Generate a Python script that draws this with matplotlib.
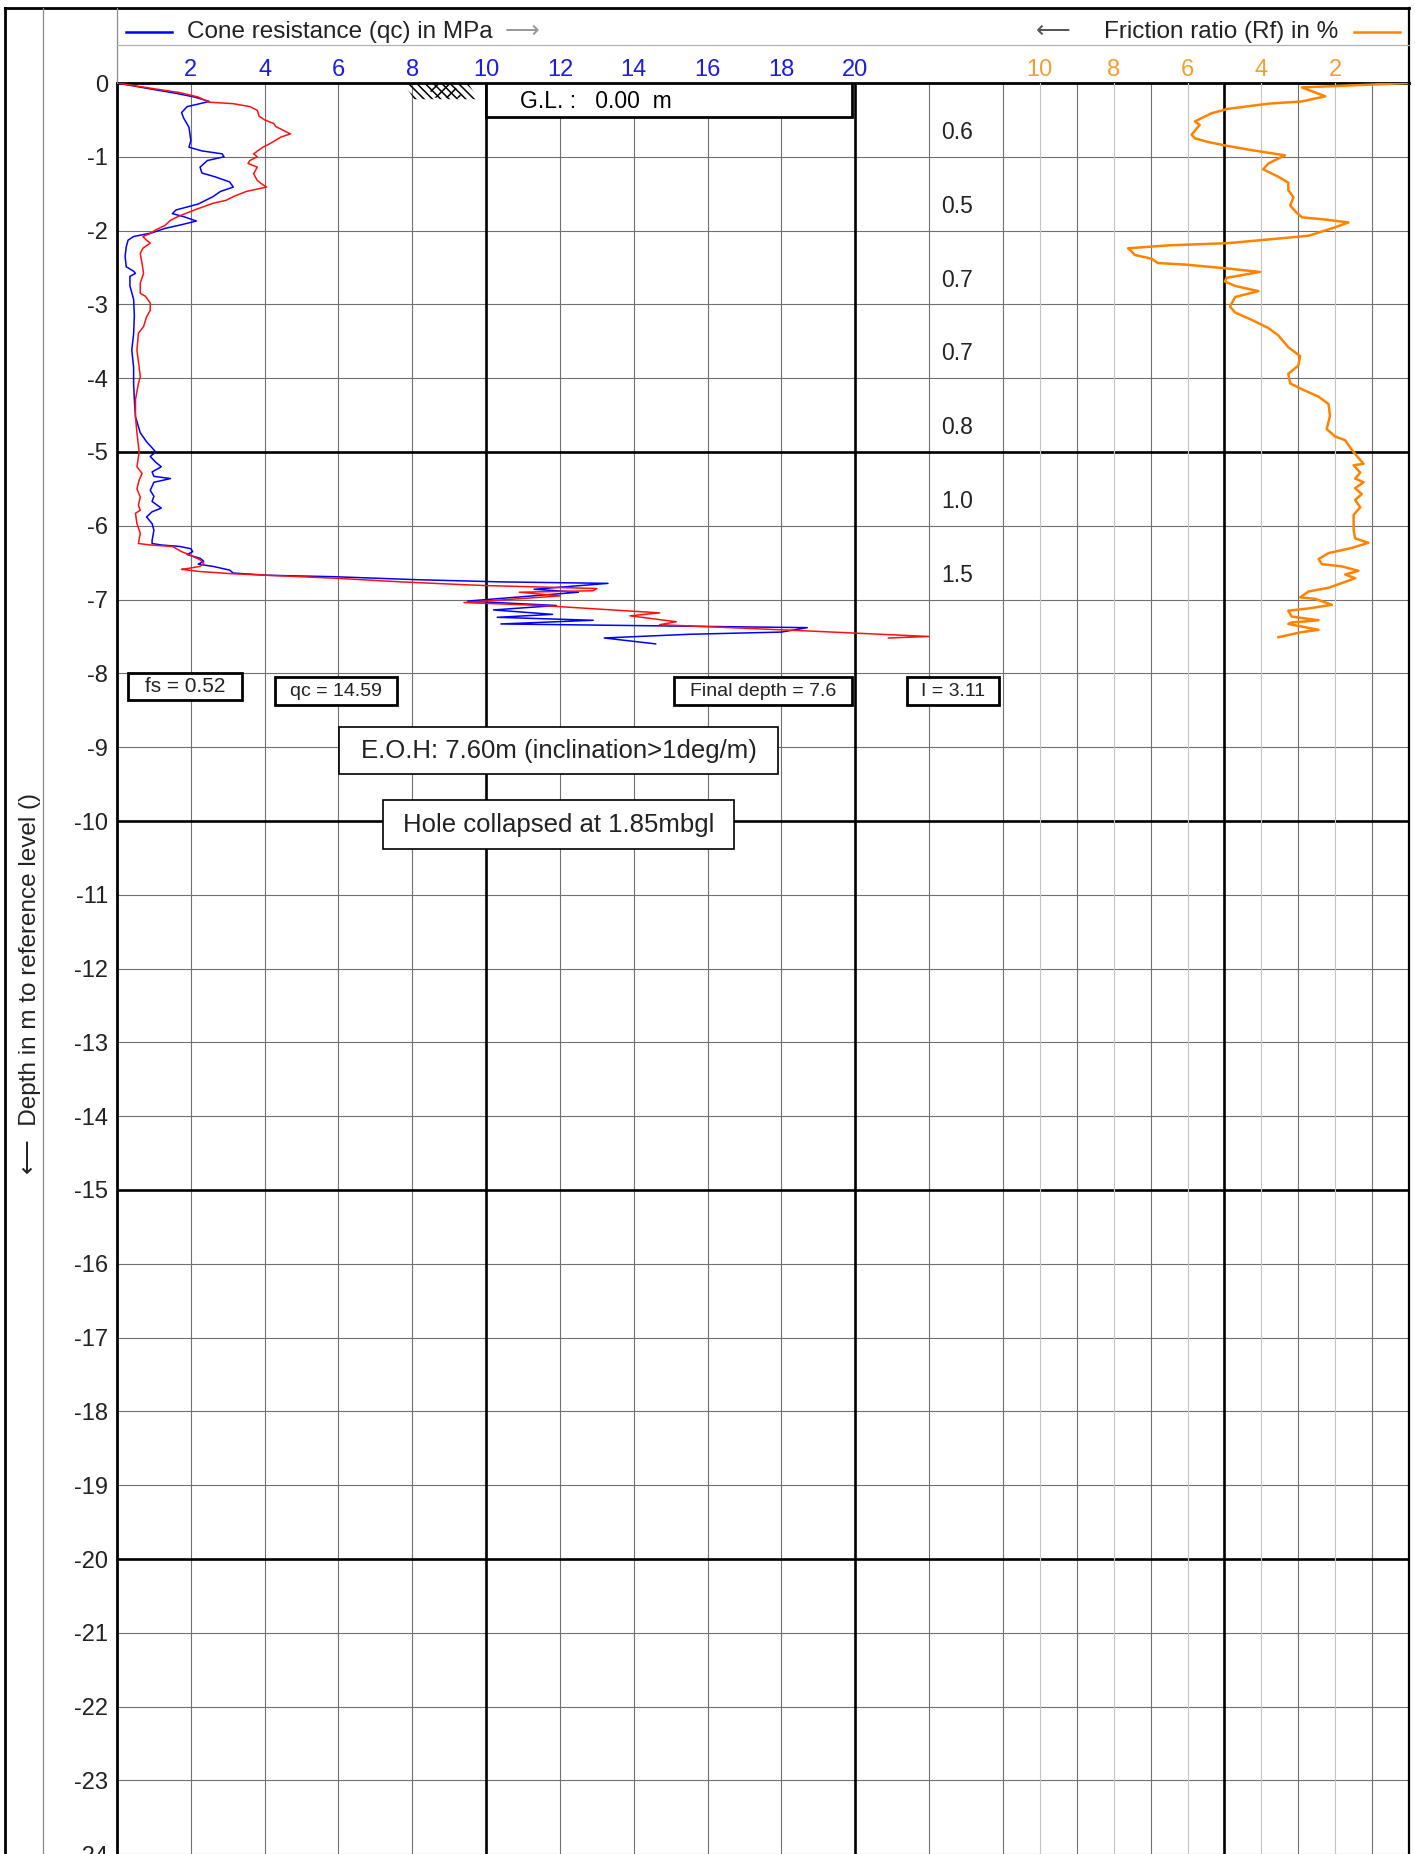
import matplotlib.pyplot as plt
import numpy as np
from matplotlib.patches import Polygon, Rectangle

plt.rcParams["font.family"] = ["Liberation Sans", "DejaVu Sans"]
plt.rcParams["axes.unicode_minus"] = False
plt.rcParams["hatch.linewidth"] = 1.1

# --- cone resistance qc (MPa) vs depth (m) ---
qc_depth = [0.00, 0.08, 0.14, 0.19, 0.25, 0.32, 0.40, 0.47, 0.60, 0.78, 0.87, 0.92, 0.96, 1.00,
            1.05, 1.14, 1.22, 1.27, 1.34, 1.41, 1.47, 1.54, 1.59, 1.64, 1.72, 1.77, 1.81, 1.87,
            1.92, 1.97, 2.03, 2.08, 2.13, 2.22, 2.35, 2.49, 2.55, 2.58, 2.62, 2.75, 2.93, 3.15,
            3.40, 3.62, 3.85, 4.07, 4.29, 4.52, 4.74, 4.86, 5.00, 5.06, 5.14, 5.20, 5.27, 5.33,
            5.36, 5.41, 5.52, 5.60, 5.67, 5.76, 5.81, 5.88, 5.97, 6.06, 6.20, 6.24, 6.26, 6.28,
            6.31, 6.35, 6.39, 6.44, 6.48, 6.52, 6.55, 6.60, 6.64, 6.67, 6.69, 6.73, 6.76, 6.78,
            6.86, 6.90, 7.02, 7.08, 7.14, 7.20, 7.24, 7.28, 7.33, 7.38, 7.44, 7.47, 7.52, 7.60]
qc_values = [0.0, 0.9, 1.6, 2.1, 2.5, 1.9, 1.75, 1.8, 1.95, 2.0, 1.95, 2.3, 2.85, 2.9,
             2.45, 2.25, 2.3, 2.65, 3.05, 3.15, 2.8, 2.6, 2.4, 2.2, 1.6, 1.5, 1.8, 2.15,
             1.75, 1.3, 0.95, 0.45, 0.3, 0.25, 0.22, 0.25, 0.45, 0.5, 0.35, 0.35, 0.45, 0.47,
             0.45, 0.4, 0.45, 0.45, 0.47, 0.5, 0.63, 0.8, 1.05, 0.9, 1.05, 1.2, 0.95, 1.0,
             1.45, 1.0, 0.9, 1.0, 0.95, 1.2, 0.95, 0.8, 0.95, 1.0, 0.95, 0.95, 1.2, 1.7,
             2.0, 2.05, 1.9, 2.25, 2.35, 2.2, 2.6, 3.05, 3.15, 4.05, 5.9, 8.1, 10.4, 13.3,
             11.3, 12.5, 9.5, 11.9, 10.2, 11.8, 10.3, 12.9, 10.4, 18.7, 18.0, 15.5, 13.2, 14.59]

# --- second (red) trace, same scale ---
red_depth = [0.00, 0.07, 0.13, 0.19, 0.26, 0.28, 0.32, 0.37, 0.45, 0.50, 0.55, 0.59, 0.64, 0.69,
             0.73, 0.82, 0.87, 0.96, 1.00, 1.05, 1.09, 1.14, 1.23, 1.32, 1.36, 1.41, 1.47, 1.54,
             1.59, 1.63, 1.72, 1.81, 1.86, 1.93, 1.99, 2.04, 2.08, 2.13, 2.17, 2.24, 2.31, 2.45,
             2.58, 2.71, 2.85, 2.89, 2.98, 3.08, 3.17, 3.30, 3.39, 3.62, 3.85, 3.98, 4.07, 4.29,
             4.52, 4.74, 5.00, 5.20, 5.29, 5.38, 5.50, 5.61, 5.72, 5.79, 5.83, 5.97, 6.10, 6.24,
             6.26, 6.28, 6.35, 6.40, 6.46, 6.51, 6.55, 6.58, 6.59, 6.62, 6.65, 6.67, 6.71, 6.76,
             6.80, 6.81, 6.85, 6.88, 6.90, 6.95, 7.04, 7.08, 7.18, 7.22, 7.30, 7.34, 7.42, 7.50,
             7.52]
red_values = [0.0, 0.9, 1.7, 2.2, 2.5, 3.15, 3.6, 3.8, 3.85, 4.0, 4.25, 4.3, 4.5, 4.7,
              4.45, 4.15, 3.95, 3.7, 3.8, 3.6, 3.55, 3.8, 3.7, 3.8, 3.9, 4.05, 3.5, 3.15,
              2.95, 2.6, 2.1, 1.65, 1.45, 1.3, 1.05, 0.9, 0.7, 0.8, 0.9, 0.7, 0.63, 0.68,
              0.72, 0.63, 0.63, 0.77, 0.9, 0.9, 0.8, 0.72, 0.58, 0.54, 0.6, 0.63, 0.58, 0.5,
              0.5, 0.54, 0.6, 0.54, 0.68, 0.6, 0.54, 0.63, 0.58, 0.63, 0.5, 0.54, 0.63, 0.58,
              0.9, 1.5, 1.75, 2.0, 2.25, 2.35, 2.25, 1.9, 1.75, 2.25, 3.15, 4.05, 5.9, 7.7,
              9.5, 10.0, 13.0, 12.9, 10.9, 12.0, 9.4, 11.5, 14.7, 13.9, 15.15, 14.7, 18.5, 22.0,
              20.9]

# --- friction ratio Rf (%) vs depth (m) ---
rf_depth = [0.00, 0.06, 0.18, 0.25, 0.28, 0.35, 0.41, 0.52, 0.57, 0.62, 0.70, 0.75, 0.80, 0.85,
            0.91, 0.98, 1.09, 1.17, 1.27, 1.35, 1.45, 1.55, 1.66, 1.76, 1.82, 1.85, 1.89, 1.97,
            2.07, 2.12, 2.17, 2.20, 2.24, 2.28, 2.33, 2.38, 2.44, 2.46, 2.51, 2.56, 2.64, 2.69,
            2.75, 2.82, 2.90, 3.03, 3.11, 3.21, 3.32, 3.42, 3.58, 3.70, 3.83, 3.94, 4.07, 4.15,
            4.25, 4.35, 4.51, 4.69, 4.79, 4.84, 4.97, 5.08, 5.16, 5.18, 5.28, 5.36, 5.41, 5.49,
            5.57, 5.65, 5.75, 5.85, 6.06, 6.17, 6.23, 6.30, 6.37, 6.45, 6.52, 6.55, 6.61, 6.66,
            6.71, 6.76, 6.84, 6.89, 6.97, 6.99, 7.07, 7.12, 7.15, 7.23, 7.28, 7.31, 7.33, 7.41,
            7.44, 7.51]
rf_values = [0.0, 2.9, 2.27, 2.9, 3.81, 4.9, 5.35, 5.8, 5.67, 5.76, 5.89, 5.8, 5.44, 4.94,
             4.26, 3.36, 3.81, 3.95, 3.54, 3.27, 3.27, 3.13, 3.22, 3.04, 2.9, 2.27, 1.64, 2.09,
             2.72, 3.81, 4.9, 6.52, 7.61, 7.52, 7.43, 6.98, 6.8, 6.07, 4.99, 4.04, 4.94, 4.99,
             4.71, 4.08, 4.71, 4.85, 4.71, 4.26, 3.81, 3.54, 3.27, 2.95, 3.0, 3.27, 3.22, 2.9,
             2.45, 2.18, 2.14, 2.23, 2.0, 1.73, 1.55, 1.37, 1.23, 1.5, 1.32, 1.46, 1.23, 1.46,
             1.28, 1.46, 1.32, 1.5, 1.5, 1.46, 1.1, 1.55, 2.18, 2.45, 2.36, 1.82, 1.37, 1.73,
             1.46, 1.73, 2.18, 2.72, 2.95, 2.54, 2.09, 2.72, 3.27, 3.18, 2.45, 3.18, 3.27, 2.45,
             2.9, 3.54]

# per-metre values printed in the middle column
layer_depth = [0.67, 1.67, 2.67, 3.67, 4.67, 5.67, 6.67]
layer_labels = ["0.6", "0.5", "0.7", "0.7", "0.8", "1.0", "1.5"]

qc_ticks = [2, 4, 6, 8, 10, 12, 14, 16, 18, 20]
rf_ticks = [2, 4, 6, 8, 10]

# --- layout (pixels of a 1415 x 1854 canvas) ---
W, H = 1415, 1854
X0, X1, Y0 = 117, 1409, 83
PX_PER_M = 73.8
QC_MAX, DEPTH_MAX = 35, 25

fig = plt.figure(figsize=(W / 100, H / 100), dpi=100)
ax_h = DEPTH_MAX * PX_PER_M
ax = fig.add_axes([X0 / W, 1 - (Y0 + ax_h) / H, (X1 - X0) / W, ax_h / H])
ax.set_xlim(0, QC_MAX)
ax.set_ylim(-DEPTH_MAX, 0)

# friction ratio axis, running right to left (twiny resets ax ticks to bottom)
ax2 = ax.twiny()
ax2.set_xlim(QC_MAX, 0)

ax.xaxis.tick_top()
ax.xaxis.set_label_position("top")
qc_grid = np.arange(0, QC_MAX + 1, 2)
ax.set_xticks(qc_grid)
ax.set_xticklabels([str(v) if v in qc_ticks else "" for v in qc_grid])
ax.tick_params(axis="x", length=0, pad=1.5, labelsize=17, labelcolor="#1c1ce6",
               labeltop=True, labelbottom=False)
depth_ticks = np.arange(0, -DEPTH_MAX, -1)
ax.set_yticks(depth_ticks)
ax.set_yticklabels([str(v) for v in depth_ticks])
ax.tick_params(axis="y", length=0, pad=6.5, labelsize=17, labelcolor="#222222")
ax.grid(True, color="#707070", lw=0.8)
ax.set_axisbelow(True)
for v in (10, 20, 30):
    ax.axvline(v, color="black", lw=1.9, zorder=1.5)
for d in (-5, -10, -15, -20):
    ax.axhline(d, color="black", lw=1.9, zorder=1.5)
ax.spines["bottom"].set_visible(False)
ax.spines["top"].set_linewidth(2.0)
ax.spines["left"].set_linewidth(2.0)
ax.spines["right"].set_linewidth(1.6)

ax.plot(qc_values, -np.asarray(qc_depth), color="#0000ff", lw=1.1, zorder=3)
ax.plot(red_values, -np.asarray(red_depth), color="#ff1010", lw=1.1, zorder=3)

ax2.set_xticks(rf_ticks)
ax2.set_xticklabels([str(v) for v in rf_ticks])
ax2.tick_params(axis="x", length=0, pad=1.5, labelsize=17, labelcolor="#f0a030")
ax2.grid(True, axis="x", color="#c4c4c4", lw=0.8)
for s in ax2.spines.values():
    s.set_visible(False)
ax2.plot(rf_values, -np.asarray(rf_depth), color="#ff8300", lw=1.8, zorder=3)

# ground level symbol
ax.add_patch(Polygon([(7.76, 0), (9.5, 0), (9.8, -0.22), (8.05, -0.22)], closed=True,
                     fc="none", ec="black", lw=0, hatch="\\\\\\\\", zorder=2))
ax.add_patch(Polygon([(8.35, 0), (9.1, 0), (9.35, -0.2), (8.6, -0.2)], closed=True,
                     fc="none", ec="black", lw=0, hatch="///", zorder=2))

# G.L. box
ax.add_patch(Rectangle((10, -0.46), 9.9, 0.46, fc="white", ec="black", lw=2.0, zorder=4))
ax.text(10.92, -0.245, "G.L. :   0.00  m", ha="left", va="center", size=16.5, zorder=5)

for d, lab in zip(layer_depth, layer_labels):
    ax.text(22.33, -d, lab, ha="left", va="center", size=16.5, color="#222222", zorder=5)


def label_box(x0, x1, d0, d1, text, size, lw):
    ax.add_patch(Rectangle((x0, -d1), x1 - x0, d1 - d0, fc="white", ec="black", lw=lw, zorder=4))
    ax.text((x0 + x1) / 2, -(d0 + d1) / 2, text, ha="center", va="center", size=size,
            color="#222222", zorder=5)


label_box(0.3, 3.38, 7.99, 8.36, "fs = 0.52", 15, 2.0)
label_box(4.28, 7.59, 8.05, 8.43, "qc = 14.59", 14, 2.0)
label_box(15.1, 19.9, 8.05, 8.43, "Final depth = 7.6", 14, 2.0)
label_box(21.4, 23.9, 8.05, 8.43, "I = 3.11", 14, 2.0)
label_box(6.02, 17.91, 8.73, 9.36, "E.O.H: 7.60m (inclination>1deg/m)", 18.5, 1.2)
label_box(7.21, 16.72, 9.72, 10.38, "Hole collapsed at 1.85mbgl", 18.5, 1.2)

# --- frame and header drawn in canvas pixels ---
bg = fig.add_axes([0, 0, 1, 1], zorder=10)
bg.set_xlim(0, W)
bg.set_ylim(H, 0)
bg.axis("off")
bg.plot([5, X1], [8, 8], color="black", lw=2.0)
bg.plot([5, 5], [8, H], color="black", lw=2.0)
bg.plot([X1, X1], [8, Y0], color="black", lw=1.6)
bg.plot([43, 43], [8, H], color="#8a8a8a", lw=0.9)
bg.plot([X0, X0], [8, Y0], color="#8a8a8a", lw=0.9)
bg.plot([X0, X1], [45, 45], color="#b0b0b0", lw=0.9)

bg.plot([126, 172], [32, 32], color="#0000ff", lw=1.8)
bg.text(187, 32, "Cone resistance (qc) in MPa", ha="left", va="center", size=17.5, color="#222222")
bg.text(505, 32, "\u27f6", ha="left", va="center", size=17.5, color="#999999")
bg.text(1036, 32, "\u27f5", ha="left", va="center", size=17.5, color="#555555")
bg.text(1338, 32, "Friction ratio (Rf) in %", ha="right", va="center", size=17.5, color="#222222")
bg.plot([1354, 1400], [32, 32], color="#ff8300", lw=1.8)

bg.text(30, 983, "\u27f5  Depth in m to reference level ()", rotation=90, ha="center",
        va="center", size=17.5, color="#222222")

fig.savefig("out.png", dpi=100)
